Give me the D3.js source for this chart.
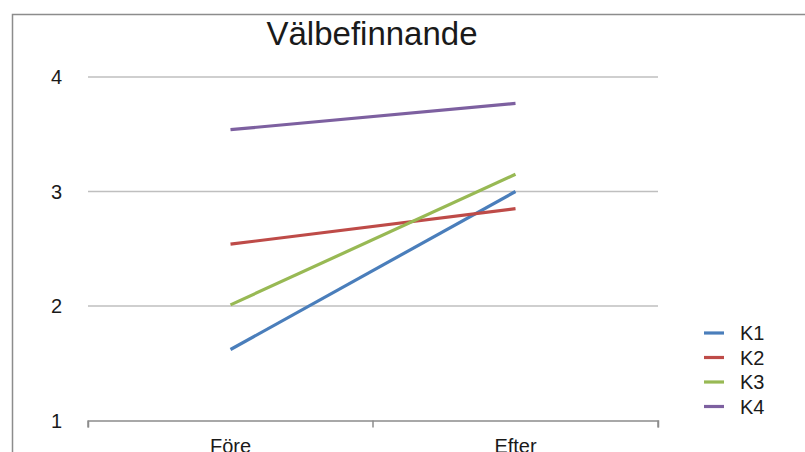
<!DOCTYPE html>
<html><head><meta charset="utf-8">
<script src="https://cdn.jsdelivr.net/npm/d3@7"></script>
<style>body{margin:0;background:#fff;}svg{display:block;font-family:"Liberation Sans",Arial,sans-serif;}</style>
</head><body>
<svg id="c" width="805" height="452"></svg>
<script>
const categories = ["Före", "Efter"];
const seriesNames = ["K1", "K2", "K3", "K4"];
const K1 = [1.62, 3.0];
const K2 = [2.54, 2.85];
const K3 = [2.01, 3.15];
const K4 = [3.54, 3.77];
const yTicks = [1, 2, 3, 4];
const colors = ["#4A7EBB", "#BE4B48", "#98B954", "#7D60A0"];
const title = "Välbefinnande";

const seriesValues = [K1, K2, K3, K4];
const svg = d3.select("#c");

// outer border
svg.append("path").attr("d", "M12.5,460 V14.5 H810").attr("fill", "none").attr("stroke", "#8c8c8c").attr("stroke-width", 1.5);

const x = d3.scaleBand().domain(categories).range([88, 658]);
const y = d3.scaleLinear().domain([1, 4]).range([420.5, 77]);

// gridlines
svg.append("g").selectAll("line").data(yTicks.filter(t => t > 1)).join("line")
  .attr("x1", 88).attr("x2", 658)
  .attr("y1", d => y(d)).attr("y2", d => y(d))
  .attr("stroke", "#bfbfbf").attr("stroke-width", 1.5);

// y labels
svg.append("g").selectAll("text").data(yTicks).join("text")
  .attr("x", 62).attr("y", d => y(d)).attr("dy", "0.36em")
  .attr("text-anchor", "end").attr("font-size", 20).attr("fill", "#1a1a1a")
  .text(d => d);

// x axis
const xAxis = d3.axisBottom(x).tickSize(7).tickSizeOuter(7).tickFormat(() => "");
const gx = svg.append("g").attr("transform", `translate(0,${y(1)})`).call(xAxis);
gx.select(".domain").attr("stroke", "#8c8c8c").attr("stroke-width", 1.5);
gx.selectAll(".tick").remove();
// category boundary tick marks
const bounds = [x.range()[0], ...categories.map(c => x(c) + x.bandwidth())];
svg.append("g").selectAll("line").data(bounds).join("line")
  .attr("x1", d => d).attr("x2", d => d)
  .attr("y1", y(1)).attr("y2", y(1) + 7)
  .attr("stroke", "#8c8c8c").attr("stroke-width", 1.5);
svg.append("g").selectAll("text").data(categories).join("text")
  .attr("x", d => x(d) + x.bandwidth() / 2).attr("y", 453)
  .attr("text-anchor", "middle").attr("font-size", 20).attr("fill", "#1a1a1a")
  .text(d => d);

// lines
const line = d3.line().x((d, i) => x(categories[i]) + x.bandwidth() / 2).y(d => y(d));
svg.append("g").selectAll("path").data(seriesValues).join("path")
  .attr("d", d => line(d)).attr("fill", "none")
  .attr("stroke", (d, i) => colors[i]).attr("stroke-width", 3.2);

// title
svg.append("text").attr("x", 372).attr("y", 44.5).attr("text-anchor", "middle")
  .attr("font-size", 33).attr("fill", "#1a1a1a").text(title);

// legend
const lg = svg.append("g").selectAll("g").data(seriesNames).join("g")
  .attr("transform", (d, i) => `translate(704,${333 + i * 24.5})`);
lg.append("line").attr("x1", 0).attr("x2", 20).attr("y1", 0).attr("y2", 0)
  .attr("stroke", (d, i) => colors[i]).attr("stroke-width", 3.2);
lg.append("text").attr("x", 36).attr("y", 0).attr("dy", "0.36em")
  .attr("font-size", 20).attr("fill", "#1a1a1a").text(d => d);
</script>
</body></html>
